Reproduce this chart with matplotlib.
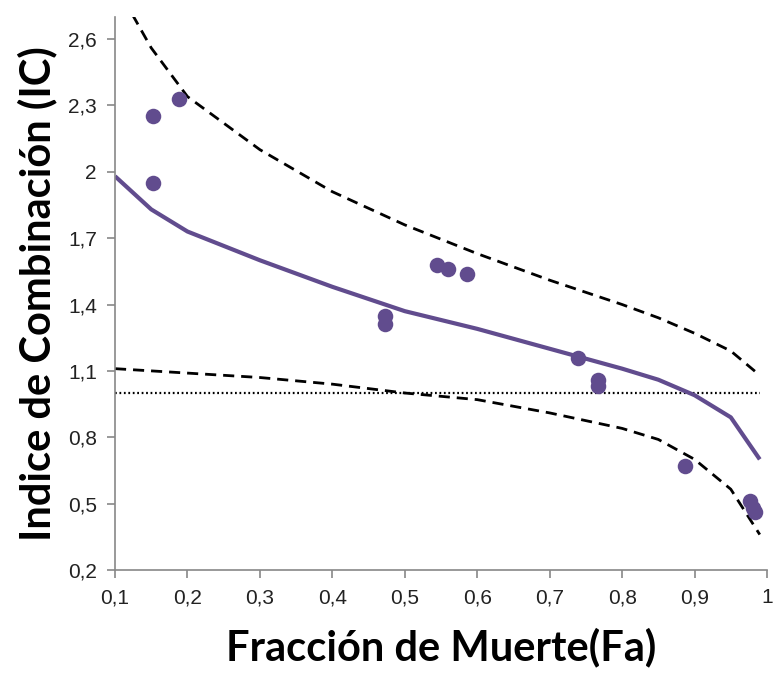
import matplotlib.pyplot as plt

# Fa-CI plot (Chou-Talalay): experimental points, fitted CI curve and 95% bounds
fa_points = [0.152, 0.152, 0.188, 0.473, 0.473, 0.545, 0.560, 0.586,
             0.739, 0.767, 0.767, 0.887, 0.977, 0.980, 0.984]
ci_points = [2.25, 1.95, 2.33, 1.35, 1.31, 1.58, 1.56, 1.54,
             1.16, 1.06, 1.03, 0.67, 0.51, 0.48, 0.46]

fa_curve = [0.1, 0.15, 0.2, 0.3, 0.4, 0.5, 0.6, 0.7, 0.8, 0.85, 0.9, 0.95, 0.99]
ci_fit = [1.98, 1.83, 1.73, 1.60, 1.48, 1.37, 1.29, 1.20, 1.11, 1.06, 0.99, 0.89, 0.70]
ci_upper = [2.85, 2.56, 2.34, 2.10, 1.91, 1.76, 1.63, 1.51, 1.40, 1.34, 1.27, 1.19, 1.08]
ci_lower = [1.11, 1.10, 1.09, 1.07, 1.04, 1.00, 0.97, 0.91, 0.84, 0.79, 0.70, 0.565, 0.36]

x_ticks = [0.1, 0.2, 0.3, 0.4, 0.5, 0.6, 0.7, 0.8, 0.9, 1.0]
x_labels = ["0,1", "0,2", "0,3", "0,4", "0,5", "0,6", "0,7", "0,8", "0,9", "1"]
y_ticks = [0.2, 0.5, 0.8, 1.1, 1.4, 1.7, 2.0, 2.3, 2.6]
y_labels = ["0,2", "0,5", "0,8", "1,1", "1,4", "1,7", "2", "2,3", "2,6"]

purple = "#614c8e"

fig = plt.figure(figsize=(7.75, 6.75), dpi=100)
ax = fig.add_axes([0.1484, 0.1556, 0.8413, 0.8193])

ax.plot([0.1, 0.99], [1, 1], color="black", lw=1.6, linestyle=(0, (0.8, 1.2)))
ax.plot(fa_curve, ci_upper, color="black", lw=2.0, linestyle=(0, (4, 2.5)))
ax.plot(fa_curve, ci_lower, color="black", lw=2.0, linestyle=(0, (4, 2.5)))
ax.plot(fa_curve, ci_fit, color=purple, lw=3.0, solid_capstyle="butt")
ax.scatter(fa_points, ci_points, s=125, color=purple, zorder=5, linewidths=0)

ax.set_xlim(0.1, 1.0)
ax.set_ylim(0.2, 2.7)
ax.set_xticks(x_ticks)
ax.set_xticklabels(x_labels)
ax.set_yticks(y_ticks)
ax.set_yticklabels(y_labels)

for side in ["top", "right"]:
    ax.spines[side].set_visible(False)
for side in ["left", "bottom"]:
    ax.spines[side].set_color("#888888")
    ax.spines[side].set_linewidth(1.2)
ax.tick_params(direction="out", length=6, width=1.2, color="#888888",
               labelsize=15, labelcolor="#222222", pad=7)
for lbl in ax.get_xticklabels() + ax.get_yticklabels():
    lbl.set_fontfamily("Liberation Sans")

ax.set_xlabel("Fracción de Muerte(Fa)", fontsize=30, fontweight="bold",
              family="Lato", labelpad=15)
ax.set_ylabel("Indice de Combinación (IC)", fontsize=30, fontweight="bold",
              family="Lato", labelpad=8)

fig.savefig("out.png", dpi=100)
